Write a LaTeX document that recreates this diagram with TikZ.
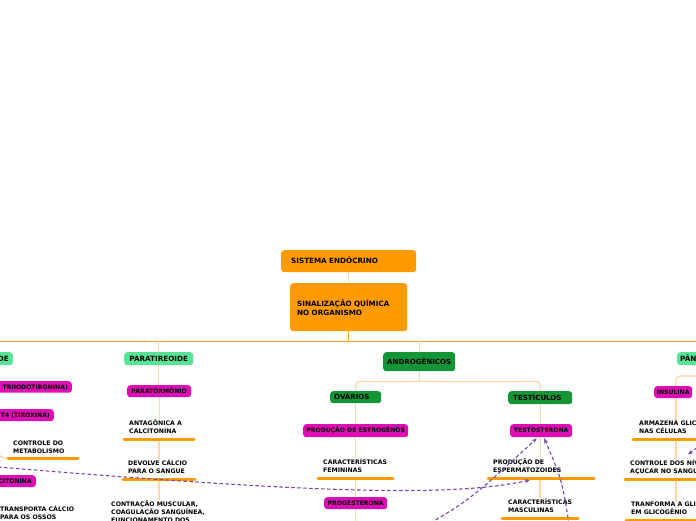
\documentclass[tikz,border=0pt]{standalone}
\usepackage{fontspec}
\setmainfont{DejaVu Sans}
\usetikzlibrary{arrows.meta}
\pgfdeclarelayer{bg}
\pgfsetlayers{bg,main}
\definecolor{rootC}{HTML}{FF9A00}
\definecolor{ulC}{HTML}{FF9A00}
\definecolor{lgreen}{HTML}{58E496}
\definecolor{dgreen}{HTML}{149637}
\definecolor{pinkC}{HTML}{DC0FB4}
\definecolor{dashC}{HTML}{7846AA}
\definecolor{subC}{HTML}{FFD8A4}
\definecolor{mainC}{HTML}{FFA02C}
\newcommand\fRoot{\fontsize{7.2}{9}\selectfont\bfseries}
\newcommand\fGreen{\fontsize{7.05}{8.5}\selectfont\bfseries}
\newcommand\fPink{\fontsize{6.1}{8}\selectfont\bfseries}
\newcommand\fTopic{\fontsize{6.2}{8}\selectfont\bfseries}
\newcommand\twoln[2]{\vtop{\hbox{#1}\hbox{#2}}}
\newcommand\threeln[3]{\vtop{\hbox{#1}\hbox{#2}\hbox{#3}}}
\begin{document}
\begin{tikzpicture}[x=1pt,y=-1pt,
  box/.style={rounded corners=3pt, inner sep=0pt, text=black},
  rootbox/.style={box, fill=rootC, font=\fRoot},
  lgbox/.style={box, fill=lgreen, font=\fRoot, text height=5.25pt, text depth=0pt},
  dgbox/.style={box, fill=dgreen, font=\fGreen, text height=5.1pt, text depth=0pt},
  pkbox/.style={box, fill=pinkC, font=\fPink, text height=4.45pt, text depth=0pt},
  topic/.style={inner sep=0pt, font=\fTopic, anchor=base west, text=black},
  uline/.style={draw=ulC, line width=3pt, line cap=round},
  subline/.style={draw=subC, line width=1.2pt},
  dropline/.style={draw=subC, line width=1.2pt},
  mainline/.style={draw=mainC, line width=1.3pt},
  link/.style={draw=dashC, line width=1.1pt, dash pattern=on 3.5pt off 2.5pt, -{Stealth[length=5pt,width=4pt]}}
]
\useasboundingbox (0,0) rectangle (696,520);
\clip (0,0) rectangle (696,520);

% ---- root
\node[rootbox, anchor=north west, minimum width=135pt, minimum height=22pt, text width=115pt, inner xsep=10pt, align=left, text height=5.25pt, text depth=0pt] (sistema) at (281,250) {SISTEMA ENDÓCRINO};
\node[rootbox, anchor=north west, minimum width=117pt, minimum height=48pt, text width=103pt, inner xsep=7pt, align=left] (sinal) at (290,283) {SINALIZAÇÃO QUÍMICA\\NO ORGANISMO};

% ---- main children
\node[lgbox, anchor=north east, minimum height=13pt, text width=50pt, inner xsep=4pt, align=right] (tireoide) at (13,352) {DE};
\node[lgbox, anchor=north west, minimum width=69pt, minimum height=13pt] (paratireoide) at (124,352) {PARATIREOIDE};
\node[dgbox, anchor=north west, minimum width=72pt, minimum height=19pt] (androg) at (383,352) {ANDROGÊNICOS};
\node[lgbox, anchor=north west, minimum height=13pt, text width=44pt, inner xsep=3pt, align=left] (pan) at (677,352) {PÂN};

% ---- tireoide column (cut at left edge)
\node[pkbox, anchor=north east, minimum height=11.5pt, text width=70pt, inner xsep=4pt, align=right] (triiodo) at (72,381) {TRIIODOTIRONINA)};
\node[pkbox, anchor=north east, minimum height=12pt, text width=56pt, inner xsep=4pt, align=right] (tiroxina) at (54,409) {T4 (TIROXINA)};
\node[topic] (metab) at (13,445.3) {\twoln{CONTROLE DO}{METABOLISMO}};
\node[pkbox, anchor=north east, minimum height=12pt, text width=40pt, inner xsep=4pt, align=right] (calcit) at (36,475) {CITONINA};
\node[topic] (transp) at (0,511.8) {\twoln{TRANSPORTA CÁLCIO}{PARA OS OSSOS}};

% ---- paratireoide column
\node[pkbox, anchor=north west, minimum width=64pt, minimum height=12pt] (paratorm) at (127,385) {PARATORMÔNIO};
\node[topic] (antag) at (129,425.3) {\twoln{ANTAGÔNICA A}{CALCITONINA}};
\node[topic] (devolve) at (128,465.3) {\twoln{DEVOLVE CÁLCIO}{PARA O SANGUE}};
\node[topic] (contracao) at (111,506.3) {\threeln{CONTRAÇÃO MUSCULAR,}{COAGULAÇÃO SANGUÍNEA,}{FUNCIONAMENTO DOS}};

% ---- androgenicos subtree
\node[dgbox, anchor=north west, minimum height=12pt, text width=43pt, inner xsep=4pt, align=left] (ovarios) at (330,391) {OVÁRIOS};
\node[pkbox, anchor=north west, minimum width=105pt, minimum height=13pt] (estrog) at (303,424) {PRODUÇÃO DE ESTROGÊNOS};
\node[topic] (femin) at (323,464.3) {\twoln{CARACTERÍSTICAS}{FEMININAS}};
\node[pkbox, anchor=north west, minimum width=63pt, minimum height=12pt] (progest) at (324,497) {PROGESTERONA};

\node[dgbox, anchor=north west, minimum height=13pt, text width=54pt, inner xsep=5pt, align=left] (testic) at (508,391) {TESTÍCULOS};
\node[pkbox, anchor=north west, minimum width=62pt, minimum height=13pt] (testost) at (510,424) {TESTOSTERONA};
\node[topic] (esperm) at (493,464.3) {\twoln{PRODUÇÃO DE}{ESPERMATOZOIDES}};
\node[topic] (masc) at (508,504.3) {\twoln{CARACTERÍSTICAS}{MASCULINAS}};

% ---- pancreas column (cut at right edge)
\node[pkbox, anchor=north west, minimum width=38pt, minimum height=12pt] (insul) at (654,386) {INSULINA};
\node[topic] (armaz) at (639,425.3) {\twoln{ARMAZENA GLIC}{NAS CÉLULAS}};
\node[topic] (contniv) at (630,465.3) {\twoln{CONTROLE DOS NÍV}{AÇUCAR NO SANGU}};
\node[topic] (transf) at (631,506.3) {\twoln{TRANFORMA A GLIC}{EM GLICOGÊNIO}};

% ---- underline anchors
\coordinate (metabU) at (43,458);
\coordinate (antagU) at (159,439);
\coordinate (devolveU) at (159,479);
\coordinate (feminU) at (355.5,478);
\coordinate (espermU) at (540,478);
\coordinate (mascU) at (540,518);
\coordinate (icol) at (676,376);
\coordinate (armazU) at (676,439);
\coordinate (contnivU) at (676,479);
\coordinate (transfU) at (676,520);

\draw[uline] (8,458) -- (78,458);
\draw[uline] (124,439) -- (194,439);
\draw[uline] (123,479) -- (195,479);
\draw[uline] (318,478) -- (393,478);
\draw[uline] (488,478) -- (594,478);
\draw[uline] (502,518) -- (578,518);
\draw[uline] (633,439) -- (705,439);
\draw[uline] (625,479) -- (705,479);
\draw[uline] (626,520) -- (705,520);

% ---- tree connectors (behind)
\begin{pgfonlayer}{bg}
\fill[white] (0,0) rectangle (696,520);
\draw[subline] (sistema) -- (sinal);
\path (sinal.south) ++(0,10) coordinate (jn);
\draw[mainline] (sinal.south) -- (jn);
\draw[mainline] (tireoide.north |- jn) -- (pan.north |- jn);
\draw[dropline] (tireoide.north |- jn) -- (tireoide.north);
\draw[dropline] (paratireoide.north |- jn) -- (paratireoide.north);
\draw[dropline] (androg.north |- jn) -- (androg.north);
\draw[dropline] (pan.north |- jn) -- (pan.north);
% tireoide
\coordinate (tcol) at (-1,440);
\draw[subline, rounded corners=5pt] (tcol) |- (8,458);
% paratireoide
\draw[subline] (paratireoide.south) -- (paratireoide.south |- paratorm.north);
\draw[subline] (paratorm.south) -- (paratorm.south |- antag.north);
\draw[subline] (antagU) -- (devolve.north -| antagU);
\draw[subline] (devolveU) -- (contracao.north -| devolveU);
% androgenicos
\path (androg.south) ++(0,10) coordinate (ajn);
\draw[subline] (androg.south) -- (ajn);
\draw[subline, rounded corners=4pt] (ajn) -| (ovarios.north);
\draw[subline, rounded corners=4pt] (ajn) -| (testic.north);
\draw[subline] (ovarios.south) -- (ovarios.south |- estrog.north);
\draw[subline] (estrog.south) -- (estrog.south |- femin.north);
\draw[subline] (feminU) -- (progest.north -| feminU);
\draw[subline] (progest.south) -- ++(0,30);
\draw[subline] (testic.south) -- (testic.south |- testost.north);
\draw[subline] (testost.south -| testic.south) -- (esperm.north -| testic.south);
\draw[subline] (espermU) -- (masc.north -| espermU);
% pancreas
\draw[subline, rounded corners=4pt] (pan.south) -- (pan.south |- icol) -- (icol) -- (insul.north -| icol);
\draw[subline] (insul.south -| icol) -- (armaz.north -| icol);
\draw[subline] (armazU) -- (contniv.north -| icol);
\draw[subline] (contnivU) -- (transf.north -| icol);
\end{pgfonlayer}

% ---- dashed links
\coordinate (l1s) at (-8,466.5);
\coordinate (l2s) at (415,532);
\coordinate (l3s) at (570,530);
\coordinate (l4s) at (702,444);
\coordinate (l4e) at (688,454.5);
\draw[link] (l1s) .. controls (300,492) and (450,498) .. ([xshift=-10pt,yshift=-2pt]espermU);
\draw[link] (l2s) .. controls (470,500) .. ([xshift=-4.5pt,yshift=-1pt]testost.south);
\draw[link] (l3s) .. controls (562,480) .. ([xshift=3pt,yshift=-1pt]testost.south);
\draw[link] (l4s) -- (l4e);
\end{tikzpicture}
\end{document}
